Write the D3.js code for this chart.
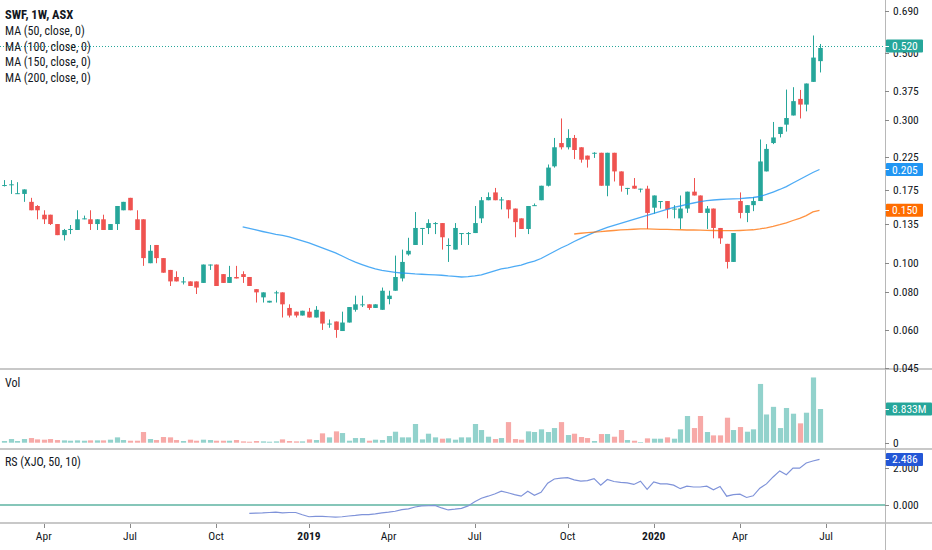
<!DOCTYPE html>
<html><head><meta charset="utf-8">
<script src="https://cdn.jsdelivr.net/npm/d3@7"></script>
<style>
body{margin:0;background:#fff;}
svg{display:block;font-family:"Liberation Sans Narrow","Arial Narrow","Roboto Condensed","DejaVu Sans Condensed",sans-serif;}
</style></head><body>
<svg id="c" width="932" height="550"></svg>
<script>
// ---- DATA (weekly bars, first bar = week of 19 Feb 2018) ----
const firstWeek = [2018, 1, 19];
const openP  = [0.181,0.182,0.170,0.170,0.160,0.155,0.145,0.145,0.135,0.124,0.129,0.129,0.140,0.140,0.135,0.140,0.129,0.135,0.150,0.165,
0.140,0.140,0.100,0.115,0.104,0.095,0.090,0.087,0.087,0.087,0.086,0.099,0.099,0.092,0.086,0.090,0.092,0.090,0.082,0.077,
0.074,0.080,0.080,0.071,0.069,0.067,0.069,0.066,0.069,0.063,0.064,0.0595,0.0635,0.070,0.073,0.073,0.071,0.070,0.076,0.081,
0.089,0.107,0.115,0.131,0.131,0.136,0.136,0.115,0.111,0.126,0.126,0.126,0.141,0.162,0.172,0.163,0.162,0.152,0.141,0.130,
0.155,0.162,0.181,0.210,0.251,0.243,0.261,0.243,0.228,0.233,0.233,0.181,0.233,0.202,0.178,0.181,0.177,0.177,0.153,0.161,
0.161,0.152,0.141,0.152,0.173,0.168,0.147,0.152,0.131,0.116,0.101,0.161,0.147,0.156,0.161,0.202,0.251,0.269,0.289,0.310,
0.352,0.337,0.401,0.470];
const highP  = [0.189,0.189,0.186,0.176,0.165,0.156,0.150,0.145,0.135,0.130,0.134,0.150,0.144,0.150,0.140,0.145,0.135,0.155,0.160,0.165,
0.150,0.140,0.115,0.115,0.104,0.095,0.094,0.090,0.087,0.087,0.099,0.099,0.099,0.092,0.098,0.098,0.094,0.090,0.082,0.080,
0.075,0.081,0.080,0.073,0.069,0.0695,0.071,0.072,0.069,0.065,0.064,0.069,0.0715,0.078,0.078,0.073,0.073,0.083,0.081,0.106,
0.111,0.1215,0.148,0.131,0.140,0.137,0.136,0.121,0.136,0.126,0.127,0.155,0.166,0.172,0.178,0.166,0.162,0.152,0.141,0.155,
0.158,0.181,0.213,0.261,0.303,0.279,0.267,0.243,0.228,0.234,0.233,0.233,0.233,0.202,0.178,0.192,0.177,0.181,0.168,0.161,
0.161,0.156,0.168,0.173,0.192,0.168,0.155,0.152,0.131,0.116,0.126,0.172,0.156,0.166,0.258,0.249,0.295,0.284,0.378,0.385,
0.377,0.396,0.572,0.536];
const lowP   = [0.180,0.170,0.170,0.160,0.150,0.140,0.135,0.134,0.124,0.119,0.125,0.129,0.140,0.129,0.129,0.129,0.129,0.129,0.150,0.150,
0.129,0.098,0.100,0.100,0.093,0.084,0.087,0.085,0.084,0.079,0.086,0.095,0.084,0.086,0.086,0.089,0.086,0.084,0.074,0.074,
0.074,0.074,0.066,0.066,0.066,0.067,0.066,0.066,0.060,0.061,0.0565,0.0595,0.0635,0.069,0.0715,0.070,0.071,0.070,0.073,0.081,
0.087,0.106,0.115,0.115,0.125,0.125,0.111,0.101,0.111,0.115,0.115,0.126,0.136,0.162,0.162,0.151,0.141,0.122,0.130,0.125,
0.155,0.162,0.180,0.208,0.239,0.239,0.222,0.216,0.208,0.224,0.181,0.167,0.187,0.173,0.169,0.177,0.172,0.130,0.146,0.152,
0.141,0.141,0.130,0.147,0.168,0.147,0.130,0.121,0.116,0.096,0.101,0.141,0.137,0.149,0.161,0.202,0.249,0.262,0.274,0.310,
0.303,0.320,0.401,0.431];
const closeP = [0.182,0.183,0.171,0.176,0.150,0.150,0.140,0.135,0.124,0.129,0.130,0.140,0.141,0.135,0.140,0.129,0.135,0.155,0.160,0.150,
0.129,0.104,0.110,0.104,0.093,0.087,0.087,0.087,0.084,0.083,0.099,0.099,0.084,0.086,0.090,0.089,0.090,0.084,0.080,0.080,
0.075,0.080,0.073,0.067,0.067,0.0695,0.066,0.070,0.063,0.063,0.060,0.0635,0.0715,0.073,0.073,0.071,0.073,0.081,0.078,0.090,
0.101,0.110,0.131,0.131,0.136,0.136,0.122,0.115,0.131,0.126,0.126,0.136,0.162,0.166,0.162,0.163,0.151,0.137,0.130,0.155,
0.156,0.181,0.208,0.243,0.243,0.261,0.238,0.221,0.221,0.233,0.181,0.233,0.202,0.181,0.178,0.177,0.177,0.147,0.168,0.161,
0.151,0.152,0.152,0.173,0.168,0.147,0.152,0.131,0.121,0.101,0.126,0.147,0.156,0.161,0.218,0.240,0.262,0.284,0.304,0.346,
0.337,0.396,0.483,0.520];
// volume in millions
const volumeM = [0.44,0.96,0.44,0.96,1.22,0.87,0.79,0.96,0.70,0.61,0.52,0.61,0.52,0.61,0.61,0.61,0.79,1.40,0.70,0.52,
0.52,2.80,0.96,0.70,1.49,1.40,0.70,0.44,0.79,0.52,0.79,0.70,0.52,0.52,0.52,0.70,0.35,0.26,0.44,0.35,
0.26,0.35,0.87,0.44,0.35,0.35,0.87,0.70,2.45,1.40,2.97,2.53,0.52,1.22,1.22,0.52,0.79,0.70,1.75,2.88,
1.40,1.40,4.90,0.87,2.36,1.40,1.05,1.14,0.79,1.40,1.40,4.90,3.32,1.57,0.96,1.22,5.40,0.96,0.79,2.97,
2.80,3.50,2.80,3.84,5.40,2.01,2.36,1.49,1.22,0.44,2.27,2.27,1.57,3.32,0.70,0.52,0.17,1.14,1.05,1.05,
1.40,1.05,3.50,7.00,3.84,7.00,2.80,1.92,1.92,6.55,3.32,4.10,2.88,3.50,15.4,7.40,9.40,3.84,9.10,7.60,
5.07,7.86,17.1,8.833];
// MA(50) starts at bar 36, MA(100) at bar 86
const ma50Start = 36;
const ma50 = [0.1320,0.1305,0.1290,0.1275,0.1261,0.1248,0.1237,0.1223,0.1204,0.1186,0.1168,0.1146,0.1124,0.1103,0.1082,0.1057,0.1031,0.1009,0.0990,0.0972,
0.0957,0.0946,0.0939,0.0933,0.0928,0.0925,0.0921,0.0919,0.0916,0.0914,0.0912,0.0907,0.0904,0.0900,0.0902,0.0907,0.0914,0.0928,0.0943,0.0957,
0.0965,0.0976,0.0986,0.1002,0.1017,0.1037,0.1065,0.1094,0.1124,0.1150,0.1181,0.1209,0.1237,0.1266,0.1290,0.1315,0.1336,0.1356,0.1377,0.1398,
0.1420,0.1442,0.1464,0.1487,0.1509,0.1533,0.1550,0.1568,0.1586,0.1602,0.1614,0.1623,0.1629,0.1633,0.1638,0.1641,0.1648,0.1654,0.1667,0.1693,
0.1725,0.1759,0.1799,0.1848,0.1898,0.1950,0.2003,0.2050];
const ma100Start = 86;
const ma100 = [0.1251,0.1258,0.1264,0.1268,0.1273,0.1280,0.1285,0.1290,0.1294,0.1297,0.1300,0.1300,0.1298,0.1296,0.1295,0.1293,0.1292,0.1290,0.1290,0.1288,
0.1286,0.1285,0.1284,0.1283,0.1283,0.1285,0.1288,0.1292,0.1300,0.1312,0.1327,0.1344,0.1363,0.1387,0.1411,0.1440,0.1481,0.1500];
// RS (XJO, 50, 10) starts at bar 37
const rsStart = 37;
const rs = [-0.46,-0.44,-0.43,-0.41,-0.39,-0.43,-0.41,-0.41,-0.53,-0.64,-0.62,-0.62,-0.64,-0.66,-0.64,-0.60,-0.57,-0.53,-0.52,-0.48,
-0.43,-0.39,-0.34,-0.25,-0.21,-0.11,-0.05,-0.04,-0.02,-0.16,-0.27,-0.23,-0.18,-0.05,0.18,0.37,0.48,0.60,0.75,0.67,
0.57,0.48,0.75,0.53,0.69,1.19,1.42,1.47,1.49,1.37,1.30,1.33,1.44,1.08,1.39,1.28,1.23,1.21,1.12,1.30,
0.85,1.26,1.15,1.15,1.08,0.89,1.03,0.98,0.98,1.03,0.83,1.01,0.48,0.57,0.59,0.41,0.50,0.92,1.15,1.53,
1.86,1.65,2.01,2.01,2.29,2.40,2.486];
const priceTicks = [0.690,0.500,0.375,0.300,0.225,0.175,0.135,0.100,0.080,0.060,0.045];
const rsTicks = [2.000, 0.000];
const volTicks = [0];
const legendTitle = "SWF, 1W, ASX";
const legendLines = ["MA (50, close, 0)","MA (100, close, 0)","MA (150, close, 0)","MA (200, close, 0)"];

// ---- LAYOUT ----
const svg = d3.select("#c");
const W = 932, H = 550, AX = 885;
const priceTop = 0, priceBot = 369, volTop = 370, volBot = 449, rsTop = 450, rsBot = 523;
const up = "#26a69a", dn = "#ef5350", volUp = "#92d2cc", volDn = "#f7a9a7";
const maBlue = "#2196f3", maOrange = "#ff6d00", rsLine = "#7f93d9", rsBox = "#2457d6";
const txt = "#131722";

const nBars = closeP.length;
const x = d3.scaleLinear().domain([0, nBars - 1]).range([4, 819.5]);
const y = d3.scaleLog().domain([0.045, 0.69]).range([367.5, 11]);
const yv = d3.scaleLinear().domain([0, 8.833]).range([442.7, 409]);
const yr = d3.scaleLinear().domain([0, 2.486]).range([505, 459.4]);

const defs = svg.append("defs");
function clip(id, y0, y1){ defs.append("clipPath").attr("id", id).append("rect").attr("x",0).attr("y",y0).attr("width",AX).attr("height",y1-y0); }
clip("cp", priceTop, priceBot); clip("cv", volTop, volBot); clip("cr", rsTop, rsBot);

svg.append("rect").attr("width",W).attr("height",H).attr("fill","#fff");

// ---- PRICE PANE ----
const gp = svg.append("g").attr("clip-path","url(#cp)");
const bars = d3.range(nBars).map(i => ({i, o:openP[i], h:highP[i], l:lowP[i], c:closeP[i], v:volumeM[i]}));
const bodyW = 4.6;
gp.selectAll("line.wick").data(bars).join("line")
  .attr("x1", d => Math.round(x(d.i)) + 0.5).attr("x2", d => Math.round(x(d.i)) + 0.5)
  .attr("y1", d => y(d.h)).attr("y2", d => y(d.l))
  .attr("stroke", d => d.c >= d.o ? up : dn).attr("stroke-width", 1);
gp.selectAll("rect.body").data(bars).join("rect")
  .attr("x", d => Math.round(x(d.i)) + 0.5 - bodyW/2).attr("width", bodyW)
  .attr("y", d => y(Math.max(d.o, d.c)))
  .attr("height", d => Math.max(1, y(Math.min(d.o, d.c)) - y(Math.max(d.o, d.c))))
  .attr("fill", d => d.c >= d.o ? up : dn);

const lineP = d3.line().x(d => x(d[0])).y(d => y(d[1]));
gp.append("path").datum(ma50.map((v,k)=>[ma50Start+k, v])).attr("d", lineP)
  .attr("fill","none").attr("stroke", maBlue).attr("stroke-width",1.3).attr("stroke-opacity",0.8);
gp.append("path").datum(ma100.map((v,k)=>[ma100Start+k, v])).attr("d", lineP)
  .attr("fill","none").attr("stroke", maOrange).attr("stroke-width",1.3).attr("stroke-opacity",0.75);

const lastC = closeP[nBars-1];
svg.append("line").attr("x1",0).attr("x2",AX).attr("y1",Math.round(y(lastC))-1.5).attr("y2",Math.round(y(lastC))-1.5)
  .attr("stroke", up).attr("stroke-dasharray","1,2").attr("stroke-width",1);

// legend
svg.append("text").attr("x",5).attr("y",19).attr("font-size",12.5).attr("font-weight","bold").attr("fill",txt).text(legendTitle);
legendLines.forEach((t,k)=> svg.append("text").attr("x",5).attr("y",35 + k*15.5).attr("font-size",12).attr("fill",txt).text(t));

// ---- VOLUME PANE ----
const gv = svg.append("g").attr("clip-path","url(#cv)");
gv.selectAll("rect").data(bars).join("rect")
  .attr("x", d => Math.round(x(d.i)) + 0.5 - 2.6).attr("width", 5.2)
  .attr("y", d => yv(d.v)).attr("height", d => yv(0) - yv(d.v))
  .attr("fill", d => d.c >= d.o ? volUp : volDn);
svg.append("text").attr("x",5).attr("y",387).attr("font-size",12).attr("fill",txt).text("Vol");

// ---- RS PANE ----
const gr = svg.append("g").attr("clip-path","url(#cr)");
gr.append("line").attr("x1",0).attr("x2",AX).attr("y1",yr(0)).attr("y2",yr(0)).attr("stroke","#86c6b9").attr("stroke-width",2);
gr.append("path").datum(rs.map((v,k)=>[rsStart+k, v]))
  .attr("d", d3.line().x(d => x(d[0])).y(d => yr(d[1])))
  .attr("fill","none").attr("stroke", rsLine).attr("stroke-width",1.2);
svg.append("text").attr("x",5).attr("y",466).attr("font-size",12).attr("fill",txt).text("RS (XJO, 50, 10)");

// ---- SEPARATORS & AXIS LINE ----
[priceBot, volBot, rsBot].forEach(yy => svg.append("line").attr("x1",0).attr("x2",W).attr("y1",yy).attr("y2",yy).attr("stroke","#c8c8c8").attr("stroke-width",2));
svg.append("line").attr("x1",AX+0.5).attr("x2",AX+0.5).attr("y1",0).attr("y2",H).attr("stroke","#b8b8b8").attr("stroke-width",1);

// ---- RIGHT AXES ----
const fmt3 = d3.format(".3f");
function rtick(yy, label){
  svg.append("line").attr("x1",AX).attr("x2",AX+4).attr("y1",Math.round(yy)+0.5).attr("y2",Math.round(yy)+0.5).attr("stroke","#888");
  svg.append("text").attr("x",AX+8).attr("y",yy).attr("dy","0.35em").attr("font-size",11.5).attr("fill",txt).text(label);
}
priceTicks.forEach(p => rtick(y(p), fmt3(p)));
volTicks.forEach(v => rtick(yv(v), String(v)));
rsTicks.forEach(v => rtick(yr(v), fmt3(v)));

function rbox(yy, label, color, w){
  svg.append("rect").attr("x",AX+1).attr("y",yy-6.5).attr("width",w).attr("height",13).attr("fill",color).attr("rx",1);
  svg.append("line").attr("x1",AX).attr("x2",AX+4).attr("y1",Math.round(yy)+0.5).attr("y2",Math.round(yy)+0.5).attr("stroke","#fff");
  svg.append("text").attr("x",AX+7).attr("y",yy).attr("dy","0.35em").attr("font-size",11.5).attr("fill","#fff").text(label);
}
rbox(y(lastC) - 2, fmt3(lastC), up, 37);
rbox(y(ma50[ma50.length-1]), fmt3(ma50[ma50.length-1]), maBlue, 37);
rbox(y(ma100[ma100.length-1]), fmt3(ma100[ma100.length-1]), maOrange, 37);
rbox(yv(volumeM[nBars-1]), d3.format(".3f")(volumeM[nBars-1]) + "M", up, 46);
rbox(yr(rs[rs.length-1]), fmt3(rs[rs.length-1]), rsBox, 37);

// ---- TIME AXIS ----
const weeks = d3.timeMonday.range(new Date(firstWeek[0], firstWeek[1], firstWeek[2]), new Date(2020, 8, 1));
const monthNames = ["Jan","Feb","Mar","Apr","May","Jun","Jul","Aug","Sep","Oct","Nov","Dec"];
weeks.forEach((d, i) => {
  if (i === 0) return;
  const m = d.getMonth();
  if (m === weeks[i-1].getMonth() || m % 3 !== 0) return;
  const xx = x(i);
  if (xx > AX - 10) return;
  svg.append("line").attr("x1",Math.round(xx)+0.5).attr("x2",Math.round(xx)+0.5).attr("y1",rsBot+1).attr("y2",rsBot+5).attr("stroke","#888");
  svg.append("text").attr("x",xx).attr("y",540).attr("text-anchor","middle").attr("font-size",11.5)
    .attr("font-weight", m === 0 ? "bold" : "normal").attr("fill",txt)
    .text(m === 0 ? String(d.getFullYear()) : monthNames[m]);
});
</script>
</body></html>
